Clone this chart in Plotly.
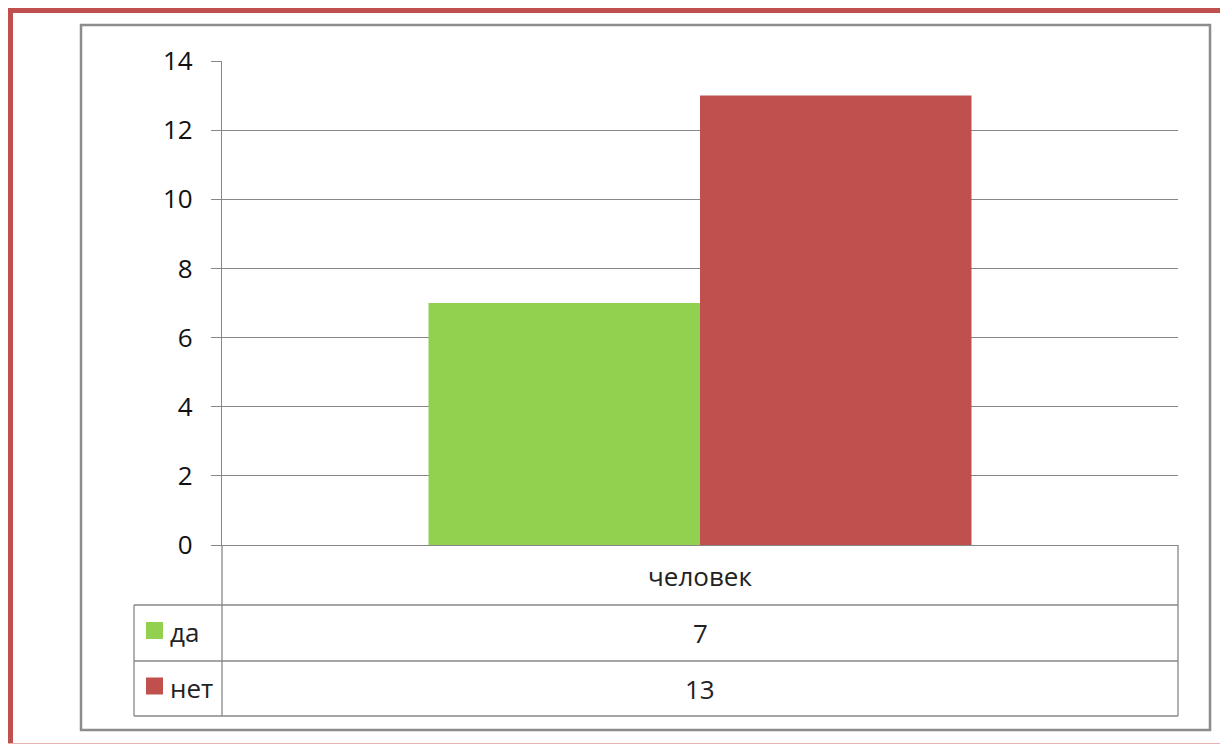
import plotly.graph_objects as go

# ---- data ----
categories = ["человек"]
series_names = ["да", "нет"]
series_values = [[7], [13]]
series_colors = ["#92D050", "#C0504D"]
y_ticks = [0, 2, 4, 6, 8, 10, 12, 14]

W, H = 1228, 744
OX, OY = 8, 8  # page body margin
def px(x):
    return (x - OX) / W
def py(y):
    return 1 - (y - OY) / H

# layout geometry (pixels, in screenshot coordinates)
PL, PR, PT, PB = 222, 1178, 61, 545
T_LEFT = 134
ROW1, ROW2, ROW3 = 605, 661, 716
GRID = "#878787"
FONT = "Open Sans"

fig = go.Figure()
for name, vals, col in zip(series_names, series_values, series_colors):
    fig.add_trace(go.Bar(x=categories, y=vals, name=name, marker=dict(color=col, line=dict(width=0)),
                         showlegend=False, hoverinfo="skip"))

shapes = []
def line(x0, y0, x1, y1, color=GRID, width=1.3):
    shapes.append(dict(type="line", xref="paper", yref="paper", x0=px(x0), y0=py(y0), x1=px(x1), y1=py(y1),
                       line=dict(color=color, width=width), layer="above"))

# red outer frame
shapes.append(dict(type="rect", xref="paper", yref="paper", x0=px(10), y0=py(10), x1=px(1260), y1=py(790),
                   line=dict(color="#C0504D", width=6), layer="below"))
line(0, 743.5, W + 20, 743.5, color="#E6B3B1", width=1)
# grey chart frame
shapes.append(dict(type="rect", xref="paper", yref="paper", x0=px(81), y0=py(25), x1=px(1210), y1=py(730),
                   line=dict(color="#8C8C8C", width=2.5), layer="below"))
# data table lines
line(PL, PB, PL, ROW3)
line(PR, PB, PR, ROW3)
line(T_LEFT, ROW1, T_LEFT, ROW3)
for yy in (ROW1, ROW2, ROW3):
    line(T_LEFT, yy, PR, yy)

annotations = []
def text(x, y, s, xanchor="center"):
    annotations.append(dict(x=px(x), y=py(y), xref="paper", yref="paper", xanchor=xanchor, yanchor="middle",
                            text=s, showarrow=False, font=dict(family=FONT, size=26, color="#222")))

# category label row
text((PL + PR) / 2, (PB + ROW1) / 2 + 1, categories[0])
rows = [(ROW1, ROW2), (ROW2, ROW3)]
for (r0, r1), name, vals, col in zip(rows, series_names, series_values, series_colors):
    cy = (r0 + r1) / 2
    shapes.append(dict(type="rect", xref="paper", yref="paper", x0=px(146), x1=px(163),
                       y0=py(cy - 11), y1=py(cy + 6), fillcolor=col, line=dict(width=0)))
    text(168, cy - 1, name, xanchor="left")
    text((PL + PR) / 2, cy, str(vals[0]))

fig.update_layout(
    width=W, height=H, autosize=False,
    margin=dict(l=0, r=0, t=0, b=0, pad=0, autoexpand=False),
    paper_bgcolor="white", plot_bgcolor="white",
    barmode="group", bargap=0.432, bargroupgap=0,
    xaxis=dict(domain=[px(PL), px(PR)], showticklabels=False, ticks="", showgrid=False, automargin=False,
               showline=True, linecolor=GRID, linewidth=1.3, zeroline=False, fixedrange=True),
    yaxis=dict(domain=[py(PB), py(PT)], range=[0, 14], tickvals=y_ticks, ticktext=[str(v) for v in y_ticks],
               automargin=False,
               showgrid=True, gridcolor=GRID, gridwidth=1.3, showline=True, linecolor=GRID, linewidth=1.3,
               ticks="outside", ticklen=10, tickcolor=GRID, tickwidth=1.3, ticklabelstandoff=13,
               zeroline=False, tickfont=dict(family=FONT, size=26, color="#111"), fixedrange=True),
    shapes=shapes, annotations=annotations,
)

fig.write_html("out.html")
